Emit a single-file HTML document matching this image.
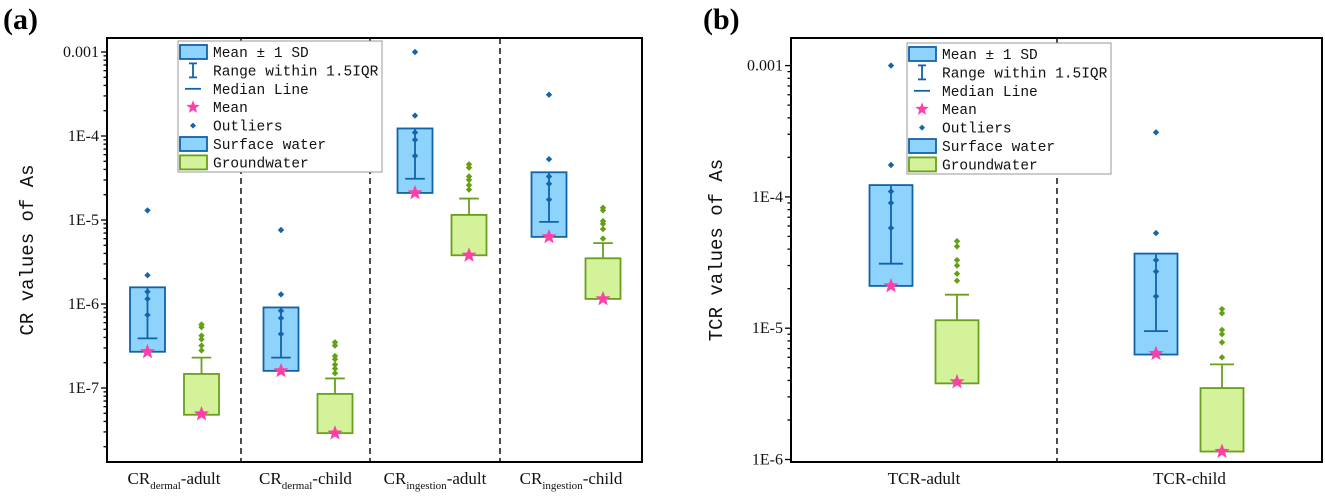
<!DOCTYPE html>
<html><head><meta charset="utf-8"><style>
html,body{margin:0;padding:0;background:#fff;}
svg{display:block;font-family:"Liberation Serif","Noto Serif CJK SC",serif;}
</style></head><body>
<svg id="chart" width="1325" height="496" viewBox="0 0 1325 496"></svg>
<script>
// ---------- Panel (a) data ----------
const catsA = ["dermal-adult","dermal-child","ingestion-adult","ingestion-child"];
const swTopA = [1.58e-6, 9.1e-7, 1.23e-4, 3.7e-5];
const swBotA = [2.7e-7, 1.6e-7, 2.1e-5, 6.3e-6];
const swCapA = [3.9e-7, 2.3e-7, 3.1e-5, 9.5e-6];
const swMeanA = [2.7e-7, 1.6e-7, 2.1e-5, 6.3e-6];
const swOutA = [[1.3e-5,2.2e-6,1.4e-6,1.15e-6,7.4e-7],[7.6e-6,1.3e-6,8.3e-7,6.8e-7,4.4e-7],[1e-3,1.75e-4,1.1e-4,9e-5,5.8e-5],[3.1e-4,5.3e-5,3.3e-5,2.7e-5,1.75e-5]];
const gwTopA = [1.47e-7, 8.5e-8, 1.15e-5, 3.5e-6];
const gwBotA = [4.8e-8, 2.9e-8, 3.8e-6, 1.15e-6];
const gwCapA = [2.3e-7, 1.3e-7, 1.8e-5, 5.3e-6];
const gwMeanA = [4.9e-8, 2.9e-8, 3.8e-6, 1.15e-6];
const gwOutA = [[5.7e-7,5.3e-7,4.2e-7,3.8e-7,3.2e-7,2.8e-7],[3.5e-7,3.2e-7,2.4e-7,2.2e-7,1.9e-7,1.7e-7,1.5e-7],[4.6e-5,4.2e-5,3.3e-5,3e-5,2.6e-5,2.3e-5],[1.4e-5,1.3e-5,9.7e-6,9e-6,7.8e-6,6e-6]];
const ticksA = ["0.001","1E-4","1E-5","1E-6","1E-7"];
const tickValsA = [1e-3,1e-4,1e-5,1e-6,1e-7];
// ---------- Panel (b) data ----------
const catsB = ["TCR-adult","TCR-child"];
const swTopB = [1.23e-4, 3.7e-5];
const swBotB = [2.1e-5, 6.3e-6];
const swCapB = [3.1e-5, 9.5e-6];
const swMeanB = [2.1e-5, 6.4e-6];
const swOutB = [[1e-3,1.75e-4,1.1e-4,9e-5,5.8e-5],[3.1e-4,5.3e-5,3.3e-5,2.7e-5,1.75e-5]];
const gwTopB = [1.15e-5, 3.5e-6];
const gwBotB = [3.8e-6, 1.15e-6];
const gwCapB = [1.8e-5, 5.3e-6];
const gwMeanB = [3.9e-6, 1.15e-6];
const gwOutB = [[4.6e-5,4.2e-5,3.3e-5,3e-5,2.6e-5,2.3e-5],[1.4e-5,1.3e-5,9.7e-6,9e-6,7.8e-6,6e-6]];
const ticksB = ["0.001","1E-4","1E-5","1E-6"];
const tickValsB = [1e-3,1e-4,1e-5,1e-6];

const NS="http://www.w3.org/2000/svg";
const svg=document.getElementById('chart');
function mk(tag,attrs,parent){const e=document.createElementNS(NS,tag);for(const k in attrs)e.setAttribute(k,attrs[k]);(parent||svg).appendChild(e);return e;}
const SWF="#8dd3fb",SWS="#1262a8",GWF="#d3f29a",GWS="#67a01c",PINK="#ff3fa8",SWD="#1466aa",GWD="#63a012";

function starPts(cx,cy,r){let p=[];for(let i=0;i<10;i++){const a=-Math.PI/2+i*Math.PI/5;const rr=i%2?r*0.42:r;p.push((cx+rr*Math.cos(a)).toFixed(1)+","+(cy+rr*Math.sin(a)).toFixed(1));}return p.join(" ");}
function diamond(cx,cy,r){return `${cx},${cy-r} ${cx+r},${cy} ${cx},${cy+r} ${cx-r},${cy}`;}

function panel(cfg){
  const g=mk('g',{});
  
  
  const y=v=>cfg.y0+(Math.log10(cfg.v0)-Math.log10(v))*cfg.dec;
  const n=cfg.cats.length;
  const edges=[cfg.L].concat(cfg.div,[cfg.R]);
  cfg.div.forEach(dx=>{const l=mk('line',{x1:dx,x2:dx,y1:cfg.T,y2:cfg.B,stroke:"#111","stroke-width":1.5,"stroke-dasharray":"6,4"},g);
    });
  const lo=Math.floor(Math.log10(cfg.vmin)), hi=Math.ceil(Math.log10(cfg.vmax));
  for(let d=lo;d<=hi;d++){for(let m=1;m<10;m++){const v=m*Math.pow(10,d);const yy=y(v);if(yy<cfg.T||yy>cfg.B)continue;
    mk('line',{x1:cfg.L-(m==1?6:3.5),x2:cfg.L,y1:yy,y2:yy,stroke:"#000","stroke-width":1.3},g);}}
  cfg.tickVals.forEach((v,i)=>{const t=mk('text',{x:cfg.L-8,y:y(v)+5,"text-anchor":"end","font-size":16,fill:"#111"},g);t.textContent=cfg.ticks[i];
    });
  const yt=mk('text',{x:0,y:0,transform:`translate(${cfg.ytx},${(cfg.T+cfg.B)/2}) rotate(-90)`,"text-anchor":"middle","font-size":19,"font-family":"Liberation Mono, monospace",fill:"#111"},g);
  yt.textContent=cfg.ytitle;
  for(let i=0;i<n;i++){
    const cx=cfg.cx[i], off=cfg.off, bw=cfg.bw;
    [[cfg.sw,SWF,SWS,SWD,-1,'surface'],[cfg.gw,GWF,GWS,GWD,1,'ground']].forEach(([d,f,s,dc,sg,nm])=>{
      const x=cx+sg*off;
      const top=y(d.top[i]),bot=y(d.bot[i]),cap=y(d.cap[i]);
      const bx=mk('rect',{x:x-bw/2,y:top,width:bw,height:bot-top,fill:f,stroke:s,"stroke-width":1.8},g);
      
      mk('line',{x1:x,x2:x,y1:top,y2:cap,stroke:s,"stroke-width":1.8},g);
      mk('line',{x1:x-bw*0.28,x2:x+bw*0.28,y1:cap,y2:cap,stroke:s,"stroke-width":1.8},g);
      d.out[i].forEach(v=>{const o=mk('polygon',{points:diamond(x,y(v),3.2),fill:dc},g);
        });
      const st=mk('polygon',{points:starPts(x,y(d.mean[i]),8),fill:PINK},g);
      
    });
    const lab=mk('text',{x:(edges[i]+edges[i+1])/2,y:cfg.B+22,"text-anchor":"middle","font-size":17,fill:"#111"},g);
    
    const c=cfg.cats[i];
    if(c.startsWith('TCR')){lab.textContent=c;}
    else{const [sub,who]=c.split('-');const a=mk('tspan',{},lab);a.textContent="CR";
      const b=mk('tspan',{"font-size":11,dy:5},lab);b.textContent=sub;
      const cc=mk('tspan',{dy:-5},lab);cc.textContent="-"+who;}
  }
  const fr=mk('rect',{x:cfg.L,y:cfg.T,width:cfg.R-cfg.L,height:cfg.B-cfg.T,fill:"none",stroke:"#000","stroke-width":2},g);
  
  const lg=mk('g',{},g);
  const lx=cfg.lx,ly=cfg.ly,rh=18.4;
  mk('rect',{x:lx,y:ly,width:204,height:131,fill:"#fff",stroke:"#999","stroke-width":1},lg);
  const items=["Mean ± 1 SD","Range within 1.5IQR","Median Line","Mean","Outliers","Surface water","Groundwater"];
  items.forEach((t,k)=>{const cy=ly+11+k*rh;const sx=lx+15;
    if(k==0||k==5){mk('rect',{x:lx+2,y:cy-7,width:27,height:14,fill:SWF,stroke:SWS,"stroke-width":1.8},lg);}
    if(k==6){mk('rect',{x:lx+2,y:cy-7,width:27,height:14,fill:GWF,stroke:GWS,"stroke-width":1.8},lg);}
    if(k==1){mk('line',{x1:sx,x2:sx,y1:cy-7,y2:cy+7,stroke:SWS,"stroke-width":1.8},lg);mk('line',{x1:sx-4,x2:sx+4,y1:cy-7,y2:cy-7,stroke:SWS,"stroke-width":1.8},lg);mk('line',{x1:sx-4,x2:sx+4,y1:cy+7,y2:cy+7,stroke:SWS,"stroke-width":1.8},lg);}
    if(k==2){mk('line',{x1:sx-8,x2:sx+8,y1:cy,y2:cy,stroke:SWS,"stroke-width":1.8},lg);}
    if(k==3){mk('polygon',{points:starPts(sx,cy,7),fill:PINK},lg);}
    if(k==4){mk('polygon',{points:diamond(sx,cy,3),fill:SWD},lg);}
    const tx=mk('text',{x:lx+35,y:cy+5,"font-size":14.5,"font-family":"Liberation Mono, monospace",fill:"#111"},lg);tx.textContent=t;
    
  });
  const pl=mk('text',{x:cfg.plx,y:29,"font-size":30,"font-weight":"bold",fill:"#000"},g);pl.textContent=cfg.plabel;
  
}

panel({name:'panel-a',cats:catsA,L:107,R:642,T:38,B:462,y0:52,v0:1e-3,dec:84,vmin:1e-8,vmax:1e-3,div:[241,370,500],cx:[174.5,308,442,576],
  ticks:ticksA,tickVals:tickValsA,ytitle:"CR values of As",ytx:33,off:27,bw:35,lx:178,ly:41,plx:3,plabel:"(a)",
  sw:{top:swTopA,bot:swBotA,cap:swCapA,mean:swMeanA,out:swOutA},gw:{top:gwTopA,bot:gwBotA,cap:gwCapA,mean:gwMeanA,out:gwOutA}});
panel({name:'panel-b',cats:catsB,L:791,R:1322,T:38,B:462,y0:65.6,v0:1e-3,dec:131.3,vmin:1e-6,vmax:1e-3,div:[1057],cx:[924,1189],
  ticks:ticksB,tickVals:tickValsB,ytitle:"TCR values of As",ytx:722,off:33,bw:43,lx:907,ly:43,plx:703,plabel:"(b)",
  sw:{top:swTopB,bot:swBotB,cap:swCapB,mean:swMeanB,out:swOutB},gw:{top:gwTopB,bot:gwBotB,cap:gwCapB,mean:gwMeanB,out:gwOutB}});
</script>
</body></html>
